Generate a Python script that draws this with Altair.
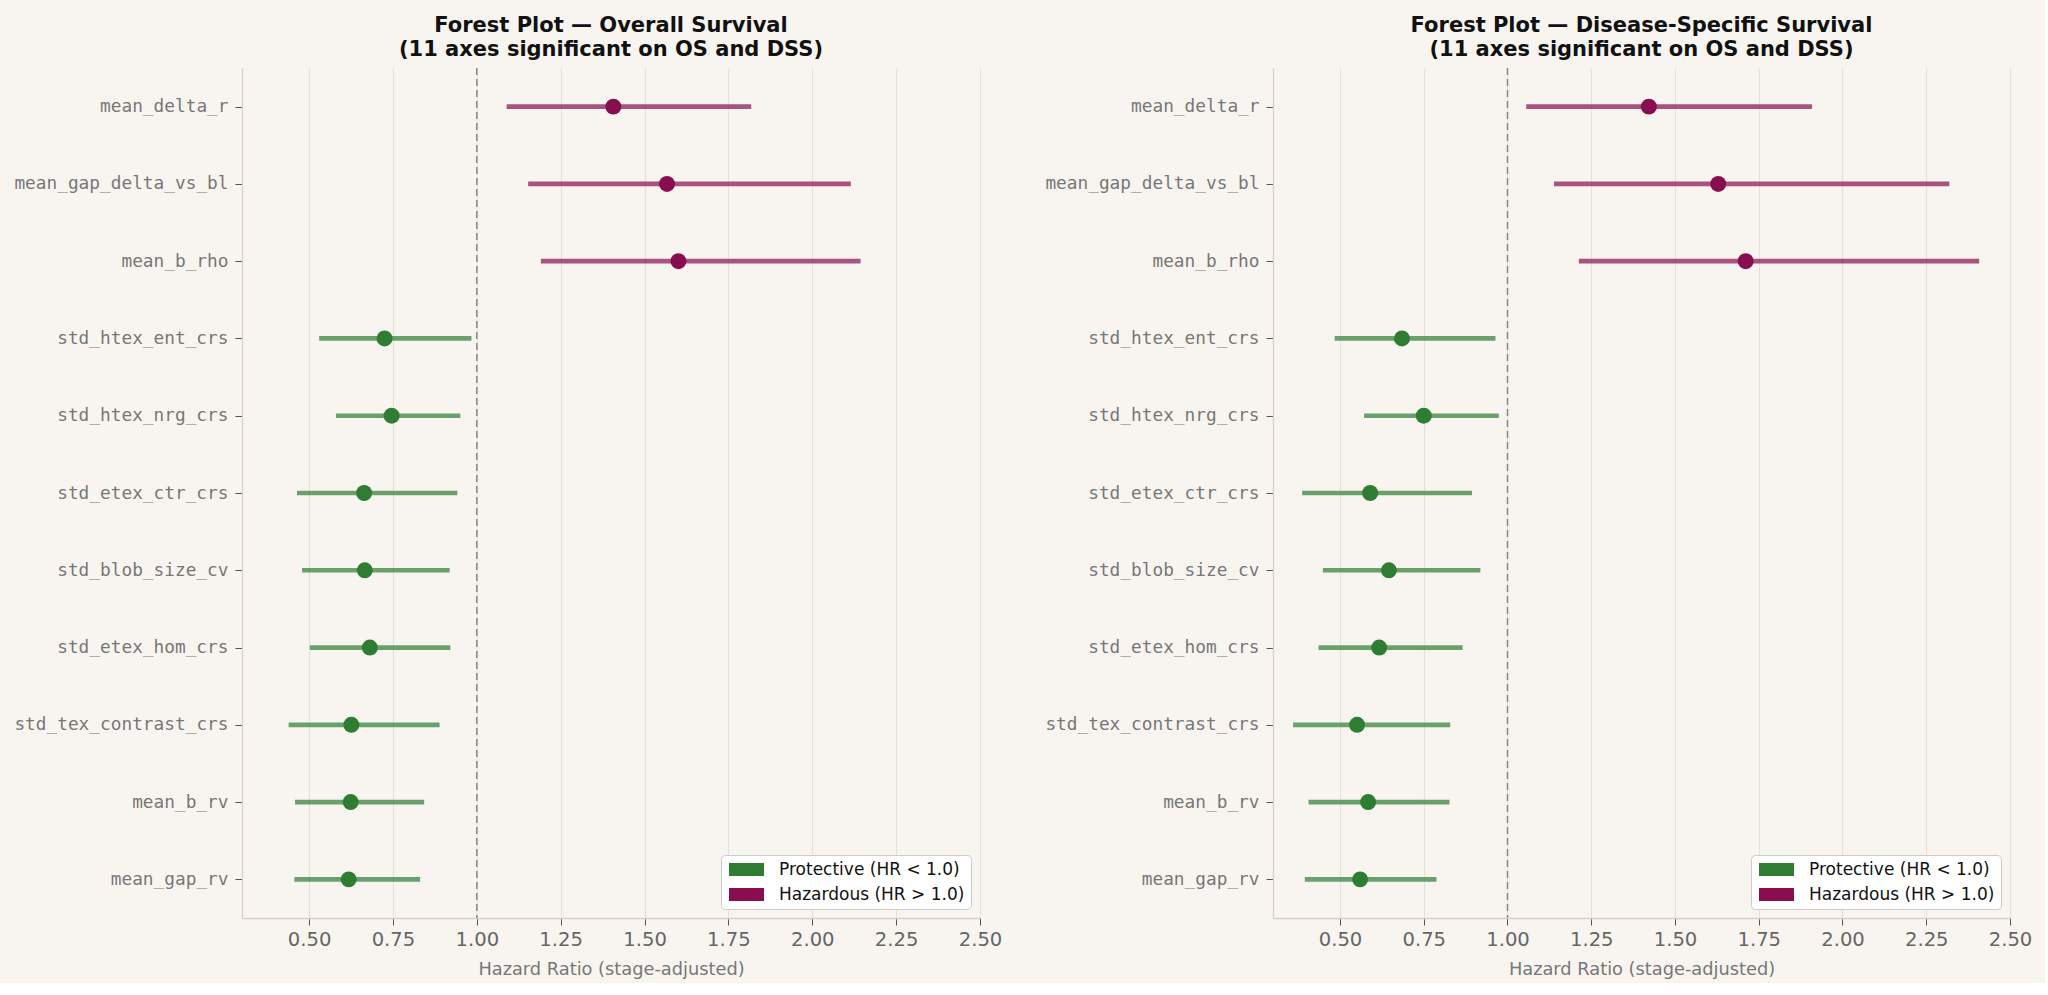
import altair as alt
import pandas as pd

features = ["mean_delta_r", "mean_gap_delta_vs_bl", "mean_b_rho", "std_htex_ent_crs",
            "std_htex_nrg_crs", "std_etex_ctr_crs", "std_blob_size_cv", "std_etex_hom_crs",
            "std_tex_contrast_crs", "mean_b_rv", "mean_gap_rv"]

os_hr = [1.407, 1.567, 1.601, 0.725, 0.746, 0.664, 0.666, 0.681, 0.626, 0.624, 0.618]
os_lo = [1.089, 1.153, 1.191, 0.530, 0.580, 0.464, 0.479, 0.502, 0.439, 0.458, 0.456]
os_hi = [1.818, 2.115, 2.144, 0.984, 0.951, 0.942, 0.919, 0.921, 0.889, 0.843, 0.831]

dss_hr = [1.422, 1.629, 1.711, 0.685, 0.750, 0.590, 0.646, 0.617, 0.551, 0.584, 0.560]
dss_lo = [1.056, 1.139, 1.213, 0.484, 0.572, 0.387, 0.449, 0.436, 0.360, 0.406, 0.395]
dss_hi = [1.909, 2.319, 2.408, 0.964, 0.974, 0.894, 0.919, 0.866, 0.829, 0.827, 0.788]

effect_labels = ["Protective (HR < 1.0)", "Hazardous (HR > 1.0)"]
effect_colors = ["#2e7d32", "#880e4f"]
x_ticks = [0.5, 0.75, 1.0, 1.25, 1.5, 1.75, 2.0, 2.25, 2.5]
x_domain = [0.3, 2.5]
ref_line = [1.0]

titles = [
    ["Forest Plot \u2014 Overall Survival", "(11 axes significant on OS and DSS)"],
    ["Forest Plot \u2014 Disease-Specific Survival", "(11 axes significant on OS and DSS)"],
]

BG = "#f8f5f0"
color_map = dict(zip(effect_labels, effect_colors))


def panel(hr, lo, hi, title, width):
    eff = [effect_labels[0] if h < 1.0 else effect_labels[1] for h in hr]
    df = pd.DataFrame({"feature": features, "hr": hr, "lo": lo, "hi": hi,
                       "effect": eff, "col": [color_map[e] for e in eff]})
    xscale = alt.Scale(domain=x_domain, nice=False, zero=False)
    yenc = alt.Y("feature:N", sort=features, title=None,
                 scale=alt.Scale(type="point", padding=0.5),
                 axis=alt.Axis(labelFont="DejaVu Sans Mono", labelFontSize=17.8,
                               labelColor="#777777", tickColor="#555555", tickSize=7,
                               labelPadding=7, domainColor="#d9d0c5", domainWidth=1.3,
                               grid=False, minExtent=227, maxExtent=227, labelLimit=400))
    xaxis = alt.Axis(values=x_ticks, format=".2f", labelFontSize=19.6, labelColor="#666666",
                     tickColor="#555555", tickSize=7, labelPadding=5,
                     domainColor="#d9d0c5", domainWidth=1.3, grid=True,
                     gridColor="#e6e1da", gridWidth=1.2,
                     title="Hazard Ratio (stage-adjusted)", titleFontSize=17.8,
                     titleColor="#777777", titleFontWeight="normal", titlePadding=12,
                     labelFlush=False)
    base = alt.Chart(df)
    ref = alt.Chart(pd.DataFrame({"ref": ref_line})).mark_rule(
        color="#888888", strokeDash=[7, 4], strokeWidth=1.5
    ).encode(x=alt.X("ref:Q", scale=xscale, axis=xaxis))
    rules = base.mark_rule(strokeWidth=4.7, strokeOpacity=0.7).encode(
        x=alt.X("lo:Q", scale=xscale, axis=xaxis),
        x2="hi:Q",
        y=yenc,
        stroke=alt.Stroke("col:N", scale=None),
    )
    legend = alt.Legend(title=None, orient="bottom-right", offset=9,
                        fillColor="white", strokeColor="#cccccc", cornerRadius=4,
                        padding=6, labelFontSize=17, labelColor="#111111",
                        labelFont="DejaVu Sans", labelLimit=400,
                        symbolType="M-1,-1H4.385V1H-1Z", symbolSize=169,
                        symbolStrokeWidth=0, symbolOpacity=1, rowPadding=7,
                        labelOffset=35)
    points = base.mark_circle(size=255, opacity=1, fillOpacity=1).encode(
        x=alt.X("hr:Q", scale=xscale, axis=xaxis),
        y=yenc,
        color=alt.Color("effect:N", scale=alt.Scale(domain=effect_labels, range=effect_colors),
                        legend=legend),
    )
    return alt.layer(ref, rules, points).properties(
        width=width, height=850,
        title=alt.TitleParams(text=title, fontSize=21, font="DejaVu Sans", fontWeight="bold",
                              color="#111111", lineHeight=24, anchor="middle", offset=7),
    )


left = panel(os_hr, os_lo, os_hi, titles[0], 738)
right = panel(dss_hr, dss_lo, dss_hi, titles[1], 737)

chart = alt.hconcat(left, right, spacing=41).resolve_scale(color="independent").resolve_legend(
    color="independent"
).properties(
    background=BG,
    padding={"left": 13, "top": 14, "right": 12, "bottom": 4},
).configure_view(stroke="transparent").configure_axis(labelFont="DejaVu Sans", titleFont="DejaVu Sans")

chart.save("out.html", embed_options={"renderer": "svg", "actions": False})
